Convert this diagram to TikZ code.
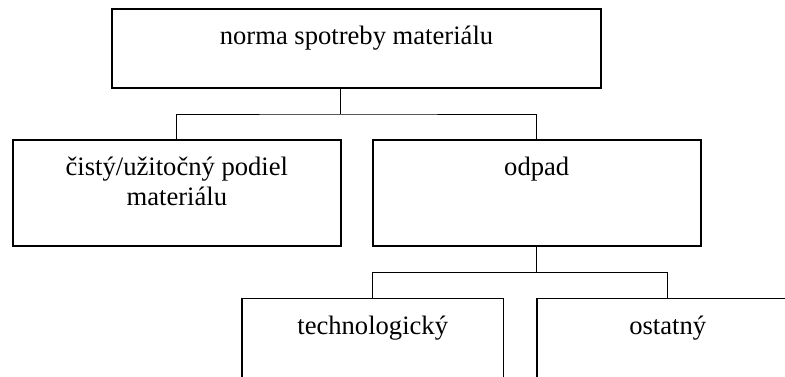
\documentclass[tikz,border=0pt]{standalone}
\usepackage{fontspec}
\setmainfont{Liberation Serif}
\begin{document}
\begin{tikzpicture}[
  box/.style={draw, line width=0.8pt, anchor=north west, inner sep=0pt, outer sep=0pt},
  txt/.style={anchor=north, inner sep=0pt, yshift=-8.4pt, align=center, font=\fontsize{13.3}{15}\selectfont},
  link/.style={line width=0.5pt}
]
\useasboundingbox (0,0) rectangle (392.5pt,-188pt);
\clip (0,0) rectangle (392.5pt,-188pt);
\node[box, minimum width=244.5pt, minimum height=39.5pt, label={[txt]north:norma spotreby materiálu}] (norma) at (56pt,-4.5pt) {};
\node[box, minimum width=163.85pt, minimum height=52.85pt, label={[txt]north:{čistý/užitočný podiel\\materiálu}}] (cisty) at (6.5pt,-70pt) {};
\node[box, minimum width=164pt, minimum height=52.85pt, label={[txt]north:odpad}] (odpad) at (186.35pt,-70pt) {};
\node[box, minimum width=130.7pt, minimum height=60pt, label={[txt]north:technologický}] (tech) at (121pt,-149.2pt) {};
\node[box, minimum width=131pt, minimum height=60pt, label={[txt]north:ostatný}] (ostatny) at (268.35pt,-149.2pt) {};
\coordinate (j1) at (cisty.east |- 0,-57pt);
\coordinate (j2) at (odpad.south |- 0,-136pt);
\draw[link] (norma.south -| j1) -- (j1);
\draw[link] (cisty.north) |- (j1) -| (odpad.north);
\draw[link] (odpad.south) -- (j2);
\draw[link] (tech.north) |- (j2) -| (ostatny.north);
\end{tikzpicture}
\end{document}
